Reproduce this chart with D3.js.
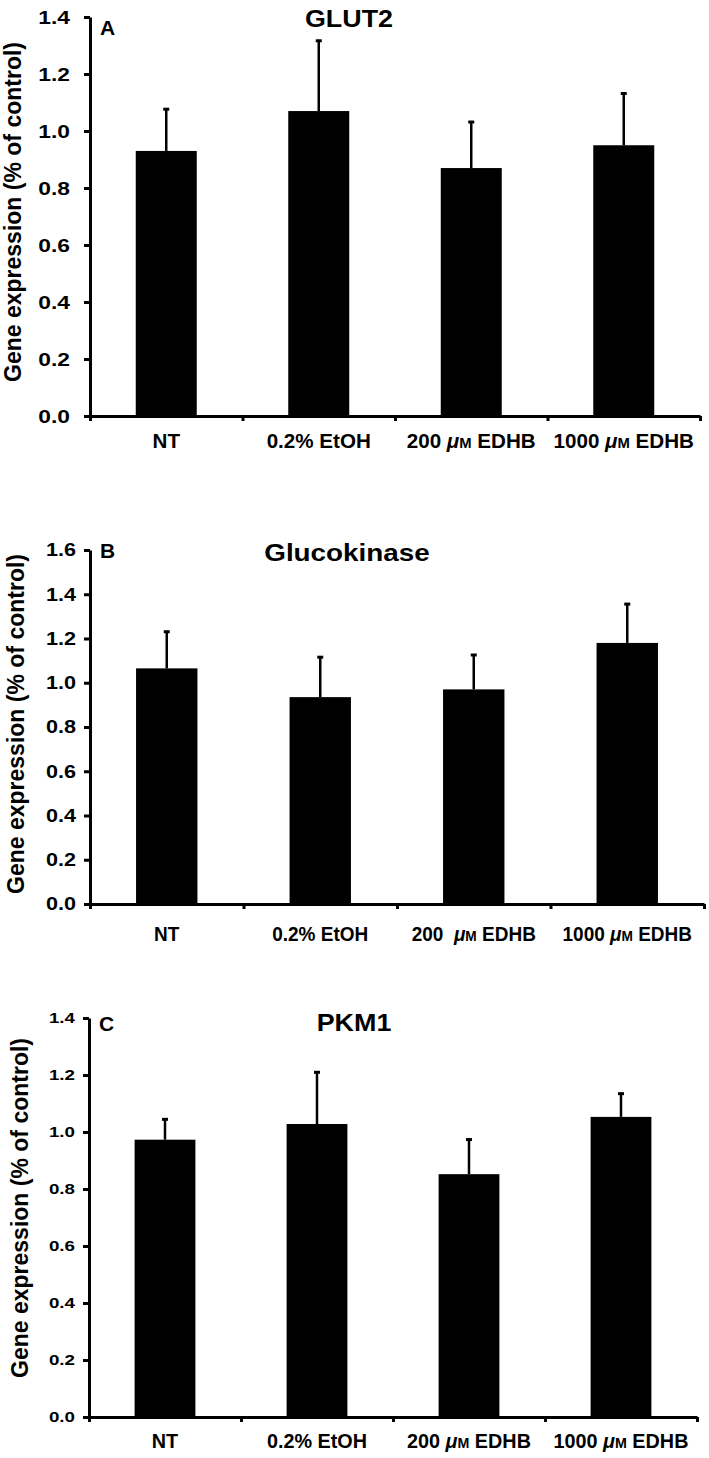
<!DOCTYPE html>
<html>
<head>
<meta charset="utf-8">
<script src="https://cdn.jsdelivr.net/npm/d3@7"></script>
<style>
  body { margin: 0; background: #fff; }
  text { font-family: Arial, "Liberation Sans", sans-serif; font-weight: bold; fill: #000; }
</style>
</head>
<body>
<svg id="fig" width="709" height="1458"></svg>
<script>
// treatment groups, same for all three genes
var categories = ["NT", "0.2% EtOH", "200 μM EDHB", "1000 μM EDHB"];
// panel B has the extra space after 200 in the original
var categoriesB = ["NT", "0.2% EtOH", "200  μM EDHB", "1000 μM EDHB"];

var glut2Mean = [0.93, 1.07, 0.87, 0.95];
var glut2Err  = [0.15, 0.25, 0.165, 0.185];

var gckMean = [1.065, 0.935, 0.97, 1.18];
var gckErr  = [0.17, 0.185, 0.16, 0.18];

var pkm1Mean = [0.973, 1.028, 0.852, 1.053];
var pkm1Err  = [0.075, 0.185, 0.125, 0.085];

var ticksA = [0, 0.2, 0.4, 0.6, 0.8, 1.0, 1.2, 1.4];
var ticksB = [0, 0.2, 0.4, 0.6, 0.8, 1.0, 1.2, 1.4, 1.6];
var ticksC = [0, 0.2, 0.4, 0.6, 0.8, 1.0, 1.2, 1.4];

var yTitle = "Gene expression (% of control)";

var svg = d3.select("#fig");

function panel(p) {
  var g = svg.append("g");
  var n = p.cats.length;

  var edge = d3.scaleLinear().domain([0, n]).range([p.left, p.right]);
  var x = d3.scaleBand().domain(p.cats).range([p.left, p.right])
    .paddingInner(0.6).paddingOuter(0.3);
  var y = d3.scaleLinear().domain([0, d3.max(p.ticks)]).range([p.bottom, p.top]);

  // bars
  g.selectAll("rect.bar")
    .data(p.mean)
    .enter()
    .append("rect")
    .attr("class", "bar")
    .attr("x", (d, i) => x(p.cats[i]))
    .attr("y", d => y(d))
    .attr("width", x.bandwidth())
    .attr("height", d => y(0) - y(d))
    .attr("fill", "#000");

  // error bars, upper half only
  var cx = i => x(p.cats[i]) + x.bandwidth() / 2;
  g.selectAll("line.err")
    .data(p.mean)
    .enter()
    .append("line")
    .attr("class", "err")
    .attr("x1", (d, i) => cx(i))
    .attr("x2", (d, i) => cx(i))
    .attr("y1", d => y(d))
    .attr("y2", (d, i) => y(d + p.err[i]))
    .attr("stroke", "#000")
    .attr("stroke-width", 2.5);
  g.selectAll("line.cap")
    .data(p.mean)
    .enter()
    .append("line")
    .attr("class", "cap")
    .attr("x1", (d, i) => cx(i) - 3)
    .attr("x2", (d, i) => cx(i) + 3)
    .attr("y1", (d, i) => y(d + p.err[i]) + 1)
    .attr("y2", (d, i) => y(d + p.err[i]) + 1)
    .attr("stroke", "#000")
    .attr("stroke-width", 3);

  // y axis
  var ya = g.append("g")
    .attr("transform", `translate(${p.left},0)`)
    .call(d3.axisLeft(y).tickValues(p.ticks).tickFormat(d3.format(".1f"))
      .tickSize(6).tickSizeOuter(0));
  ya.select(".domain").attr("stroke-width", 3);
  ya.selectAll(".tick line").attr("stroke-width", 3);
  ya.selectAll(".tick text")
    .attr("font-size", p.tickFont)
    .attr("x", -p.tickGap / p.sx)
    .attr("transform", `scale(${p.sx},1)`);

  // x axis: ticks sit between the groups
  var xa = g.append("g")
    .attr("transform", `translate(0,${p.bottom})`)
    .call(d3.axisBottom(edge).tickValues(d3.range(n + 1)).tickFormat("")
      .tickSize(5).tickSizeOuter(0));
  xa.select(".domain").attr("stroke-width", 3);
  xa.selectAll(".tick line").attr("stroke-width", 3);

  var xl = g.append("g")
    .attr("transform", `translate(0,${p.bottom})`)
    .call(d3.axisBottom(x).tickSize(0).tickPadding(p.labelPad));
  xl.select(".domain").remove();
  xl.selectAll(".tick text")
    .attr("font-size", p.labelFont)
    .attr("transform", `scale(${p.labelSx},1)`)
    .style("white-space", "pre")
    .each(function(d) {
      var t = d3.select(this);
      if (d.indexOf("μM") < 0) { t.text(d); return; }
      var parts = d.split("μM");
      t.text(null);
      t.append("tspan").text(parts[0]);
      t.append("tspan").attr("font-style", "italic").text("μ");
      t.append("tspan").attr("font-size", "0.72em").text("M");
      t.append("tspan").text(parts[1]);
    });

  // y title
  svg.append("text")
    .attr("transform", `translate(${p.yTitleX},${p.yTitleY}) rotate(-90)`)
    .attr("text-anchor", "middle")
    .attr("dominant-baseline", "central")
    .attr("font-size", 23)
    .text(yTitle);

  // panel letter and gene name
  svg.append("text")
    .attr("x", p.left + 10)
    .attr("y", p.letterY)
    .attr("font-size", p.letterFont)
    .text(p.letter);
  svg.append("text")
    .attr("transform", `translate(${p.titleX},${p.titleY}) scale(${p.titleSx},1)`)
    .attr("text-anchor", "middle")
    .attr("font-size", 24)
    .text(p.title);
}

panel({
  cats: categories, mean: glut2Mean, err: glut2Err, ticks: ticksA,
  left: 90, right: 700, top: 17, bottom: 416,
  tickFont: 19, sx: 1.2, tickGap: 20, labelFont: 20, labelPad: 18, labelSx: 1.03,
  yTitleX: 13, yTitleY: 212,
  letter: "A", letterY: 35, letterFont: 21,
  title: "GLUT2", titleX: 349, titleY: 27, titleSx: 1.12
});

panel({
  cats: categoriesB, mean: gckMean, err: gckErr, ticks: ticksB,
  left: 90, right: 704, top: 550, bottom: 904,
  tickFont: 18, sx: 1.2, tickGap: 14, labelFont: 20, labelPad: 23, labelSx: 0.95,
  yTitleX: 16, yTitleY: 724,
  letter: "B", letterY: 558, letterFont: 21,
  title: "Glucokinase", titleX: 347, titleY: 561, titleSx: 1.16
});

panel({
  cats: categories, mean: pkm1Mean, err: pkm1Err, ticks: ticksC,
  left: 89, right: 697, top: 1018, bottom: 1417,
  tickFont: 15, sx: 1.25, tickGap: 14, labelFont: 20, labelPad: 17, labelSx: 0.99,
  yTitleX: 20, yTitleY: 1208,
  letter: "C", letterY: 1031, letterFont: 21,
  title: "PKM1", titleX: 354, titleY: 1031, titleSx: 1.12
});
</script>
</body>
</html>
